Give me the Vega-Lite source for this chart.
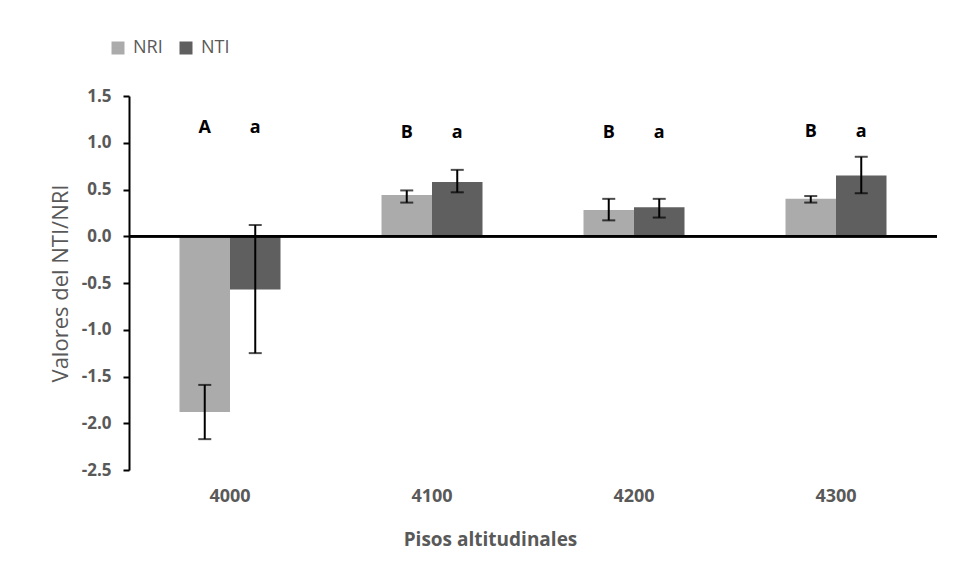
{
  "$schema": "https://vega.github.io/schema/vega-lite/v6.json",
  "width": 808,
  "height": 374,
  "autosize": {"type": "none"},
  "padding": {"left": 129, "top": 96, "right": 18, "bottom": 114},
  "background": "white",
  "config": {
    "view": {"stroke": null},
    "font": "Open Sans",
    "axis": {"grid": false}
  },
  "data": {
    "values": [
      {"piso": "4000", "indice": "NRI", "valor": -1.88, "lo": -2.17, "hi": -1.59, "letra": "A", "ly": 1.16},
      {"piso": "4000", "indice": "NTI", "valor": -0.57, "lo": -1.25, "hi": 0.12, "letra": "a", "ly": 1.16},
      {"piso": "4100", "indice": "NRI", "valor": 0.44, "lo": 0.36, "hi": 0.49, "letra": "B", "ly": 1.1},
      {"piso": "4100", "indice": "NTI", "valor": 0.58, "lo": 0.47, "hi": 0.71, "letra": "a", "ly": 1.1},
      {"piso": "4200", "indice": "NRI", "valor": 0.28, "lo": 0.17, "hi": 0.40, "letra": "B", "ly": 1.1},
      {"piso": "4200", "indice": "NTI", "valor": 0.31, "lo": 0.20, "hi": 0.40, "letra": "a", "ly": 1.1},
      {"piso": "4300", "indice": "NRI", "valor": 0.40, "lo": 0.36, "hi": 0.43, "letra": "B", "ly": 1.12},
      {"piso": "4300", "indice": "NTI", "valor": 0.65, "lo": 0.46, "hi": 0.85, "letra": "a", "ly": 1.12}
    ]
  },
  "layer": [
    {
      "mark": {"type": "bar"},
      "encoding": {
        "x": {
          "field": "piso", "type": "nominal",
          "scale": {"paddingInner": 0.5, "paddingOuter": 0.25},
          "axis": {
            "orient": "bottom", "domain": false, "ticks": false, "labelAngle": 0,
            "labelPadding": 17, "labelFontSize": 18, "labelFontWeight": "bold", "labelColor": "#595959",
            "title": "Pisos altitudinales", "titleFontSize": 19, "titleFontWeight": "bold", "titleColor": "#595959",
            "titlePadding": 25, "titleX": 361
          }
        },
        "xOffset": {"field": "indice", "type": "nominal", "scale": {"paddingInner": 0, "paddingOuter": 0}},
        "y": {
          "field": "valor", "type": "quantitative",
          "scale": {"domain": [-2.5, 1.5], "nice": false, "zero": false},
          "axis": {
            "values": [-2.5, -2, -1.5, -1, -0.5, 0, 0.5, 1, 1.5], "format": ".1f",
            "labelExpr": "replace(datum.label, '−', '-')",
            "domainColor": "black", "domainWidth": 2, "tickColor": "black", "tickWidth": 2, "tickSize": 6,
            "labelPadding": 12, "labelFontSize": 17, "labelFontWeight": "bold", "labelColor": "#595959",
            "title": "Valores del NTI/NRI", "titleFontSize": 22, "titleFontWeight": "normal", "titleColor": "#595959",
            "titlePadding": 9
          }
        },
        "color": {
          "field": "indice", "type": "nominal",
          "scale": {"domain": ["NRI", "NTI"], "range": ["#ABABAB", "#5F5F5F"]},
          "legend": {
            "orient": "none", "legendX": -20, "legendY": -57, "direction": "horizontal", "title": null,
            "symbolType": "square", "symbolSize": 169, "symbolStrokeWidth": 0, "symbolOpacity": 1,
            "labelFontSize": 18, "labelColor": "#595959", "labelOffset": 6, "columnPadding": 14
          }
        }
      }
    },
    {
      "mark": {"type": "rule", "color": "black", "strokeWidth": 2},
      "encoding": {"y": {"datum": 0}}
    },
    {
      "mark": {"type": "rule", "color": "black", "strokeWidth": 2},
      "encoding": {
        "x": {"field": "piso", "type": "nominal"},
        "xOffset": {"field": "indice", "type": "nominal"},
        "y": {"field": "lo", "type": "quantitative"},
        "y2": {"field": "hi"}
      }
    },
    {
      "mark": {"type": "tick", "color": "black", "thickness": 2, "size": 13, "orient": "horizontal"},
      "encoding": {
        "x": {"field": "piso", "type": "nominal"},
        "xOffset": {"field": "indice", "type": "nominal"},
        "y": {"field": "lo", "type": "quantitative"}
      }
    },
    {
      "mark": {"type": "tick", "color": "black", "thickness": 2, "size": 13, "orient": "horizontal"},
      "encoding": {
        "x": {"field": "piso", "type": "nominal"},
        "xOffset": {"field": "indice", "type": "nominal"},
        "y": {"field": "hi", "type": "quantitative"}
      }
    },
    {
      "mark": {"type": "text", "color": "black", "fontSize": 18, "fontWeight": "bold", "baseline": "middle"},
      "encoding": {
        "x": {"field": "piso", "type": "nominal"},
        "xOffset": {"field": "indice", "type": "nominal"},
        "y": {"field": "ly", "type": "quantitative"},
        "text": {"field": "letra"}
      }
    }
  ]
}
